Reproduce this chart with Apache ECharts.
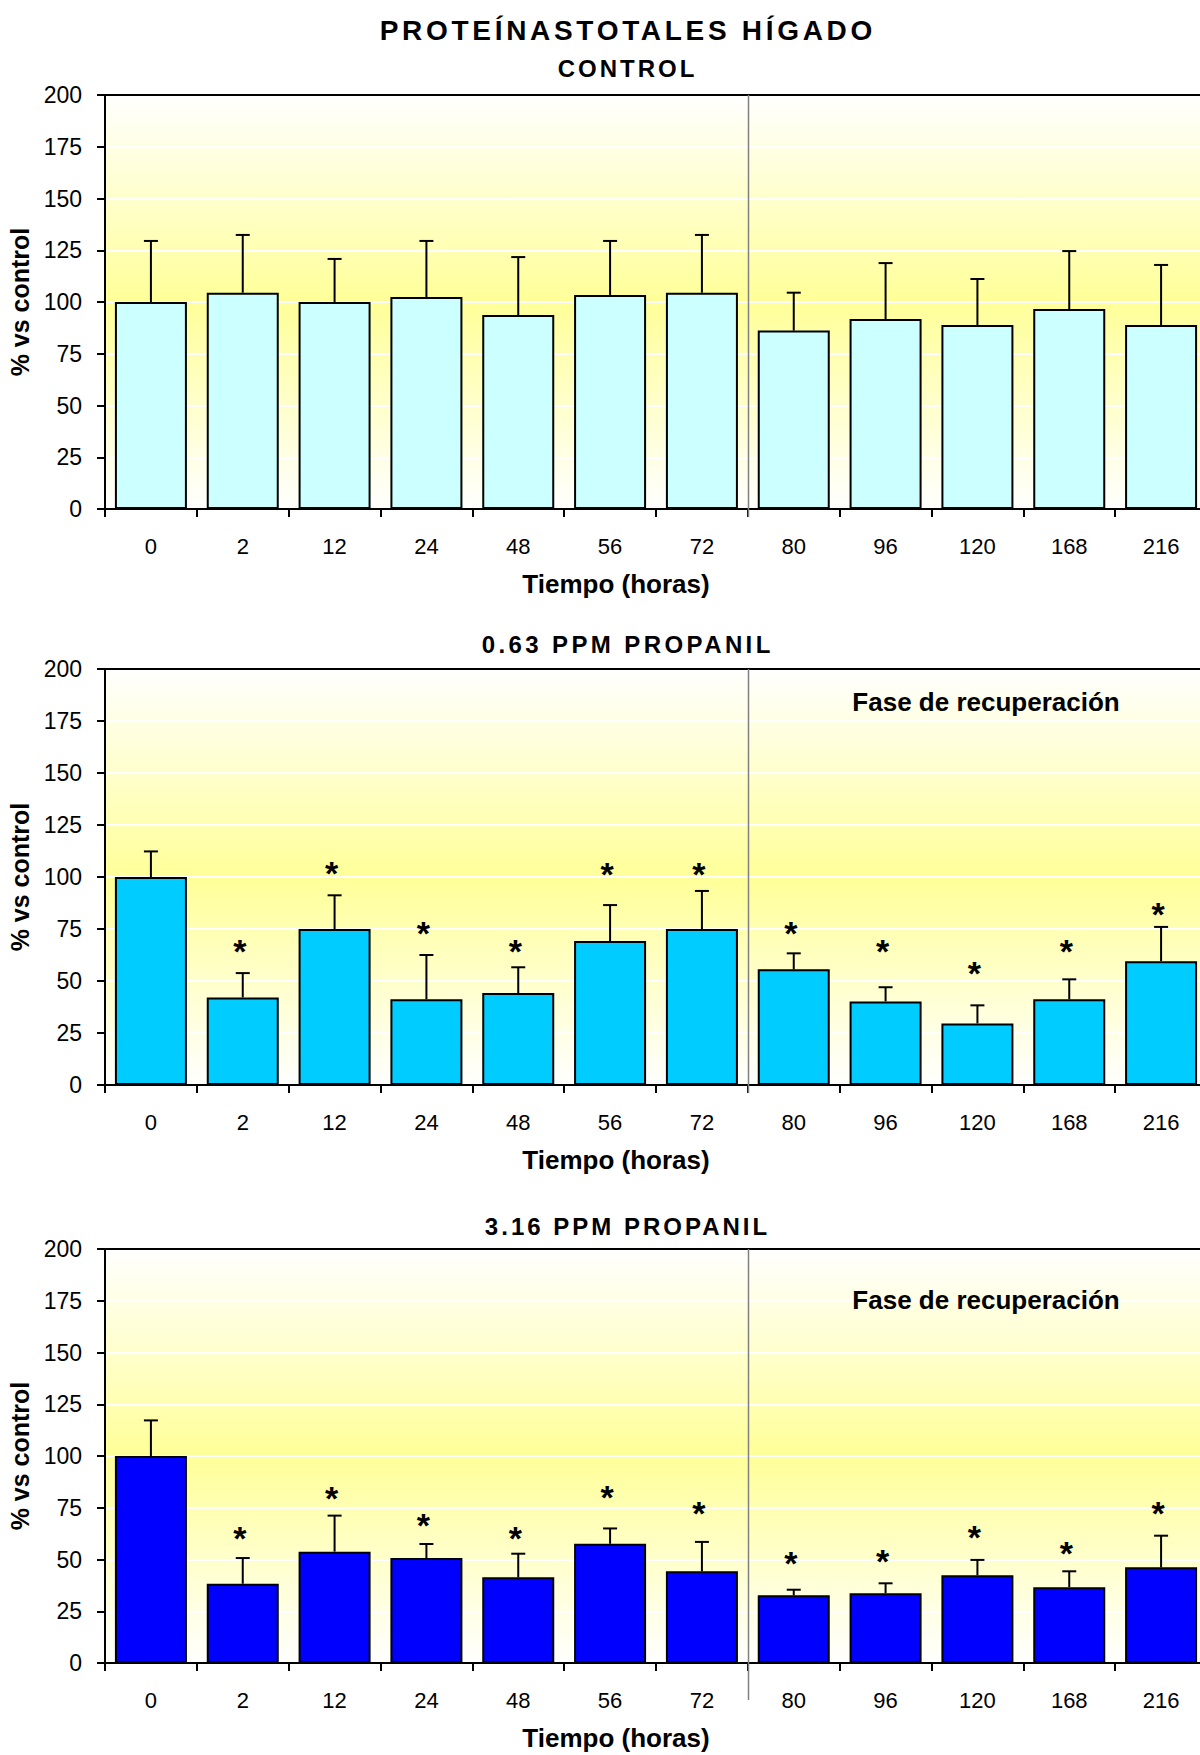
<!DOCTYPE html>
<html>
<head>
<meta charset="utf-8">
<script src="https://cdn.jsdelivr.net/npm/echarts@6/dist/echarts.min.js"></script>
<style>
html,body{margin:0;padding:0;background:#fff;}
#c{width:1200px;height:1755px;}
</style>
</head>
<body>
<div id="c"></div>
<script>
const categories = ['0','2','12','24','48','56','72','80','96','120','168','216'];
const yTicks = [0,25,50,75,100,125,150,175,200];

const controlMean = [100, 104.5, 100, 102.4, 93.7, 103.4, 104.5, 86.2, 91.8, 88.9, 96.6, 88.9];
const controlErrTop = [129.5, 132.4, 120.8, 129.5, 121.7, 129.5, 132.4, 104.5, 118.8, 111.1, 124.6, 117.9];
const controlStar = [null,null,null,null,null,null,null,null,null,null,null,null];

const ppm063Mean = [100, 42.1, 75, 41.2, 44.2, 69.2, 75, 55.6, 40.2, 29.6, 41.2, 59.5];
const ppm063ErrTop = [112.3, 53.8, 91.2, 62.5, 56.6, 86.5, 93.3, 63.3, 47, 38.3, 50.8, 76];
const ppm063Star = [null, 68.1, 105.6, 76.8, 68.1, 105.3, 105.3, 76.8, 68.1, 57.5, 68.1, 86.2];

const ppm316Mean = [100, 38.3, 53.8, 50.7, 41.4, 57.6, 44.3, 32.7, 33.7, 42.4, 36.6, 46.2];
const ppm316ErrTop = [117.2, 50.7, 71.2, 57.5, 52.8, 65, 58.5, 35.4, 38.5, 49.8, 44.3, 61.5];
const ppm316Star = [null, 64.4, 83.7, 70.5, 64.4, 84, 76.2, 52, 53.1, 64.7, 56.8, 76.2];

const mainTitle = 'PROTEÍNASTOTALES HÍGADO';
const panelTitles = ['CONTROL', '0.63 PPM PROPANIL', '3.16 PPM PROPANIL'];
const recoveryLabel = 'Fase de recuperación';
const xName = 'Tiempo (horas)';
const yName = '% vs control';
const dividerIndex = 7;

const FONT = '"Liberation Sans", Arial, Helvetica, sans-serif';

const panels = [
  {mean: controlMean, err: controlErrTop, star: controlStar, color: '#CCFFFF', top: 95, height: 414, titleY: 68, recovery: null, ext: 8},
  {mean: ppm063Mean, err: ppm063ErrTop, star: ppm063Star, color: '#00CCFF', top: 669, height: 416, titleY: 644, recovery: 702, ext: 8},
  {mean: ppm316Mean, err: ppm316ErrTop, star: ppm316Star, color: '#0000FF', top: 1249, height: 414, titleY: 1226, recovery: 1300, ext: 37}
];

const bgGradient = {
  type: 'linear', x: 0, y: 0, x2: 0, y2: 1,
  colorStops: [
    {offset: 0, color: '#FFFFFF'},
    {offset: 0.5, color: '#FFFF99'},
    {offset: 1, color: '#FFFFFF'}
  ]
};

const grids = [], xAxes = [], yAxes = [], series = [], graphics = [];

panels.forEach((p, i) => {
  grids.push({left: 105, width: 1102, top: p.top, height: p.height, show: true,
    outerBoundsMode: 'none', containLabel: false,
    backgroundColor: bgGradient, borderColor: '#000', borderWidth: 2});
  xAxes.push({
    gridIndex: i, type: 'category', data: categories,
    axisLine: {lineStyle: {color: '#000', width: 2}},
    axisTick: {show: true, length: 8, lineStyle: {color: '#000', width: 2}},
    axisLabel: {fontSize: 22, color: '#000', margin: 26, fontFamily: FONT},
    name: xName, nameLocation: 'middle', nameGap: 62,
    nameTextStyle: {fontSize: 26, fontWeight: 'bold', color: '#000', fontFamily: FONT, padding: [0, 80, 0, 0]}
  });
  yAxes.push({
    gridIndex: i, type: 'value', min: yTicks[0], max: yTicks[yTicks.length - 1], interval: 25,
    axisLine: {show: true, lineStyle: {color: '#000', width: 2}},
    axisTick: {show: true, length: 8, lineStyle: {color: '#000', width: 2}},
    axisLabel: {fontSize: 23, color: '#000', margin: 23, fontFamily: FONT},
    splitLine: {show: true, showMaxLine: false, showMinLine: false, lineStyle: {color: '#FFFFFF', width: 2}},
    name: yName, nameLocation: 'middle', nameGap: 70,
    nameTextStyle: {fontSize: 25, fontWeight: 'bold', color: '#000', fontFamily: FONT}
  });
  // divider between exposure and recovery phase
  series.push({
    type: 'custom', xAxisIndex: i, yAxisIndex: i, z: 1, silent: true,
    data: [[dividerIndex, 0]],
    renderItem: (params, api) => {
      const t = api.coord([api.value(0), yTicks[yTicks.length - 1]]);
      const b = api.coord([api.value(0), 0]);
      const w = api.size([1, 0])[0];
      const x = Math.round(t[0] - w / 2) + 0.5;
      return {type: 'line', shape: {x1: x, y1: t[1], x2: x, y2: b[1] + p.ext},
        style: {stroke: '#808080', lineWidth: 1.5}};
    }
  });
  series.push({
    type: 'bar', xAxisIndex: i, yAxisIndex: i, data: p.mean, barWidth: 72, z: 2,
    itemStyle: {color: p.color, borderColor: '#000', borderWidth: 2}
  });
  series.push({
    type: 'custom', xAxisIndex: i, yAxisIndex: i, z: 3, silent: true,
    data: p.mean.map((v, k) => [k, v, p.err[k]]),
    renderItem: (params, api) => {
      const a = api.coord([api.value(0), api.value(1)]);
      const e = api.coord([api.value(0), api.value(2)]);
      return {type: 'group', children: [
        {type: 'line', shape: {x1: a[0], y1: a[1], x2: e[0], y2: e[1]}, style: {stroke: '#000', lineWidth: 2}},
        {type: 'line', shape: {x1: e[0] - 7, y1: e[1], x2: e[0] + 7, y2: e[1]}, style: {stroke: '#000', lineWidth: 2}}
      ]};
    }
  });
  const starData = [];
  p.star.forEach((s, k) => { if (s != null) starData.push([k, s]); });
  series.push({
    type: 'custom', xAxisIndex: i, yAxisIndex: i, z: 4, silent: true,
    data: starData,
    renderItem: (params, api) => {
      const c = api.coord([api.value(0), api.value(1)]);
      return {type: 'text', x: c[0] - 3, y: c[1] + 8,
        style: {text: '*', font: 'bold 34px ' + FONT, fill: '#000', align: 'center', verticalAlign: 'middle'}};
    }
  });
  graphics.push({type: 'text', x: 626, y: p.titleY, z: 10,
    style: {text: panelTitles[i], font: 'bold 24px ' + FONT, fill: '#000', align: 'center', verticalAlign: 'middle'}});
  if (p.recovery != null) {
    graphics.push({type: 'text', x: 986, y: p.recovery, z: 10,
      style: {text: recoveryLabel, font: 'bold 26px ' + FONT, fill: '#000', align: 'center', verticalAlign: 'middle'}});
  }
});

graphics.push({type: 'text', x: 626, y: 30, z: 10,
  style: {text: mainTitle, font: 'bold 28px ' + FONT, fill: '#000', align: 'center', verticalAlign: 'middle'}});

const dom = document.getElementById('c');
const chart = echarts.init(dom, null, {renderer: 'svg'});
chart.setOption({
  animation: false,
  backgroundColor: '#FFFFFF',
  textStyle: {fontFamily: FONT},
  grid: grids, xAxis: xAxes, yAxis: yAxes, series: series, graphic: graphics
});

const spacing = {};
spacing[mainTitle] = 3.7;
spacing[panelTitles[0]] = 3;
spacing[panelTitles[1]] = 3.4;
spacing[panelTitles[2]] = 3;
function applySpacing() {
  dom.querySelectorAll('text').forEach(t => {
    const s = spacing[t.textContent];
    if (s != null && !t.getAttribute('data-ls')) {
      t.setAttribute('letter-spacing', s);
      t.setAttribute('data-ls', '1');
      const x = parseFloat(t.getAttribute('x') || '0');
      t.setAttribute('x', x + s / 2);
    }
  });
}
chart.on('finished', applySpacing);
applySpacing();
setTimeout(applySpacing, 50);
</script>
</body>
</html>
